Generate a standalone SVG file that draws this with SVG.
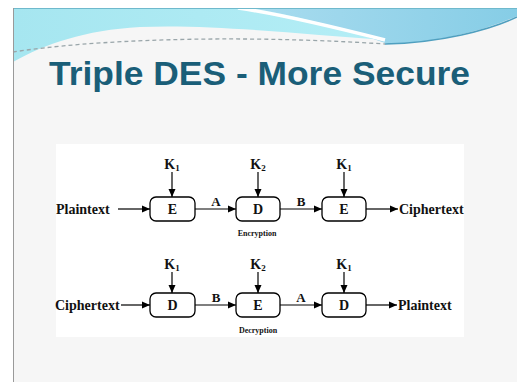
<svg xmlns="http://www.w3.org/2000/svg" width="517" height="382" viewBox="0 0 517 382">
  <defs>
    <linearGradient id="bandLight" x1="0" y1="0" x2="1" y2="0">
      <stop offset="0" stop-color="#a6e6f0"/>
      <stop offset="1" stop-color="#b4eef6"/>
    </linearGradient>
    <linearGradient id="bandDark" x1="0" y1="0" x2="1" y2="0">
      <stop offset="0" stop-color="#a9dcef"/>
      <stop offset="1" stop-color="#86cde6"/>
    </linearGradient>
    <marker id="arrow" markerUnits="userSpaceOnUse" markerWidth="9" markerHeight="8" refX="8" refY="4" orient="auto">
      <path d="M0,0.5 L8,4 L0,7.5 Z" fill="#000"/>
    </marker>
    <style>
      .title { font-family: "Liberation Sans", Arial, sans-serif; font-weight: bold; font-size: 34px; fill: #1a5e78; }
      .lbl { font-family: "Liberation Serif", "Times New Roman", serif; font-weight: bold; fill: #111; }
      .io { font-size: 14px; }
      .box { fill: #fff; stroke: #000; stroke-width: 1.3; }
      .boxtxt { font-size: 14px; text-anchor: middle; }
      .key { font-size: 14px; text-anchor: middle; }
      .edge { font-size: 13px; text-anchor: middle; }
      .cap { font-size: 8px; text-anchor: middle; }
      .wire { stroke: #000; stroke-width: 1.2; fill: none; marker-end: url(#arrow); }
    </style>
  </defs>

  <!-- slide background -->
  <rect x="0" y="0" width="517" height="382" fill="#fff"/>
  <rect x="13" y="8" width="504" height="374" fill="#f6f6f6"/>

  <!-- header swoosh -->
  <path d="M13,8 H300 C330,18 360,30 385,40 C300,34 210,24 140,27 C85,30 45,44 13,62 Z" fill="url(#bandLight)"/>
  <path d="M250,8 H517 V16 C490,28 445,42 388,44 C350,30 300,16 250,8 Z" fill="url(#bandDark)"/>
  <path d="M238,8 C280,14 330,26 385,40" stroke="#fff" stroke-width="3.5" fill="none"/>
  <path d="M13,52 C90,40 230,34 385,44" stroke="#9aa6aa" stroke-width="1.3" stroke-dasharray="4 3" fill="none"/>
  <path d="M385,44 C440,43 490,30 517,17" stroke="#4f9fbf" stroke-width="1.5" fill="none"/>
  <line x1="13" y1="8.5" x2="517" y2="8.5" stroke="#6fb9cc" stroke-width="1"/>
  <line x1="13.5" y1="8" x2="13.5" y2="382" stroke="#9a9a9a" stroke-width="1"/>

  <text class="title" x="49" y="85" textLength="421" lengthAdjust="spacingAndGlyphs">Triple DES - More Secure</text>

  <!-- diagram panel -->
  <rect x="56" y="144" width="408" height="193" fill="#fff"/>

  <!-- encryption row -->
  <text class="lbl io" x="56" y="214">Plaintext</text>
  <text class="lbl io" x="399" y="214">Ciphertext</text>
  <text class="lbl cap" x="257" y="236">Encryption</text>

  <g id="enc-e1">
    <rect class="box" x="150" y="197" width="45" height="24" rx="6"/>
    <text class="lbl boxtxt" x="172.5" y="214">E</text>
    <text class="lbl key" x="172" y="169">K<tspan font-size="9" dy="2">1</tspan></text>
  </g>
  <g id="enc-d">
    <rect class="box" x="236" y="197" width="44" height="24" rx="6"/>
    <text class="lbl boxtxt" x="258" y="214">D</text>
    <text class="lbl key" x="258" y="169">K<tspan font-size="9" dy="2">2</tspan></text>
  </g>
  <g id="enc-e2">
    <rect class="box" x="322" y="197" width="44" height="24" rx="6"/>
    <text class="lbl boxtxt" x="344" y="214">E</text>
    <text class="lbl key" x="344" y="169">K<tspan font-size="9" dy="2">1</tspan></text>
  </g>

  <!-- decryption row -->
  <text class="lbl io" x="55" y="310">Ciphertext</text>
  <text class="lbl io" x="398" y="310">Plaintext</text>
  <text class="lbl cap" x="258" y="333">Decryption</text>

  <g id="dec-d1">
    <rect class="box" x="150" y="293" width="45" height="24" rx="6"/>
    <text class="lbl boxtxt" x="172.5" y="310">D</text>
    <text class="lbl key" x="172" y="269">K<tspan font-size="9" dy="2">1</tspan></text>
  </g>
  <g id="dec-e">
    <rect class="box" x="236" y="293" width="44" height="24" rx="6"/>
    <text class="lbl boxtxt" x="258" y="310">E</text>
    <text class="lbl key" x="258" y="269">K<tspan font-size="9" dy="2">2</tspan></text>
  </g>
  <g id="dec-d2">
    <rect class="box" x="322" y="293" width="44" height="24" rx="6"/>
    <text class="lbl boxtxt" x="344" y="310">D</text>
    <text class="lbl key" x="344" y="269">K<tspan font-size="9" dy="2">1</tspan></text>
  </g>

  <!-- connectors -->
  <g id="connectors">
    <line class="wire" x1="118" y1="209" x2="150" y2="209"/>
    <line class="wire" x1="195" y1="209" x2="236" y2="209"/>
    <line class="wire" x1="280" y1="209" x2="322" y2="209"/>
    <line class="wire" x1="366" y1="209" x2="398" y2="209"/>
    <line class="wire" x1="172" y1="172" x2="172" y2="197"/>
    <line class="wire" x1="258" y1="172" x2="258" y2="197"/>
    <line class="wire" x1="344" y1="172" x2="344" y2="197"/>
    <text class="lbl edge" x="216" y="206">A</text>
    <text class="lbl edge" x="301" y="206">B</text>

    <line class="wire" x1="121" y1="305" x2="150" y2="305"/>
    <line class="wire" x1="195" y1="305" x2="236" y2="305"/>
    <line class="wire" x1="280" y1="305" x2="322" y2="305"/>
    <line class="wire" x1="366" y1="305" x2="397" y2="305"/>
    <line class="wire" x1="172" y1="272" x2="172" y2="293"/>
    <line class="wire" x1="258" y1="272" x2="258" y2="293"/>
    <line class="wire" x1="344" y1="272" x2="344" y2="293"/>
    <text class="lbl edge" x="216" y="302">B</text>
    <text class="lbl edge" x="301" y="302">A</text>
  </g>
</svg>
